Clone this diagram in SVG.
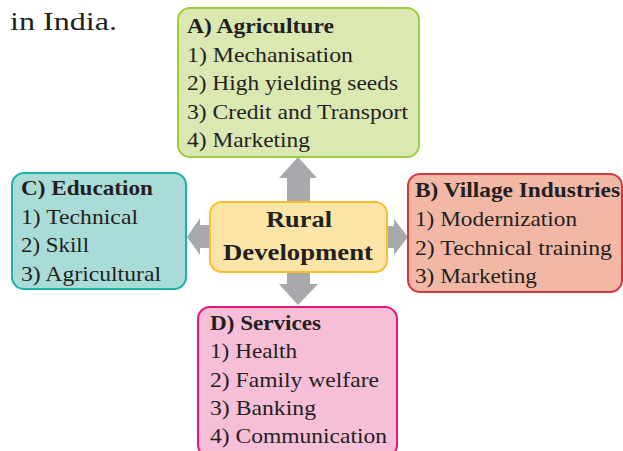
<svg xmlns="http://www.w3.org/2000/svg" width="623" height="451" viewBox="0 0 623 451">
<style>
text{font-family:"Liberation Serif","Times New Roman",Times,serif;fill:#231f20}
.t{font-size:21px;font-weight:bold}
.i{font-size:21px}
.c{font-size:24px;font-weight:bold}
.box{stroke-width:2}
.arr{fill:#a7a9ac}
</style>
<rect width="623" height="451" fill="#fff"/>
<text x="10" y="30" style="font-size:25px" textLength="107" lengthAdjust="spacingAndGlyphs">in India.</text>
<g id="connectors">
<polygon class="arr" points="287,202 287,178 279,178 298,157 317,178 310,178 310,202"/>
<polygon class="arr" points="287,272 287,284 279,284 298,305 318,284 310,284 310,272"/>
<polygon class="arr" points="210,225 200,225 200,218 187,237 200,255 200,248 210,248"/>
<polygon class="arr" points="387,226 394,226 394,219 408,237 394,255 394,248 387,248"/>
</g>
<g id="agriculture">
<rect class="box" x="178" y="8" width="241" height="149" rx="12" fill="#dce8b1" stroke="#9fcd40"/>
<text class="t" x="187" y="33" textLength="147" lengthAdjust="spacingAndGlyphs">A) Agriculture</text>
<text class="i" x="187" y="62" textLength="166" lengthAdjust="spacingAndGlyphs">1) Mechanisation</text>
<text class="i" x="187" y="90" textLength="211" lengthAdjust="spacingAndGlyphs">2) High yielding seeds</text>
<text class="i" x="187" y="119" textLength="221" lengthAdjust="spacingAndGlyphs">3) Credit and Transport</text>
<text class="i" x="187" y="147" textLength="123" lengthAdjust="spacingAndGlyphs">4) Marketing</text>
</g>
<g id="education">
<rect class="box" x="12" y="173" width="174" height="116" rx="12" fill="#a9dcd6" stroke="#1fb3a8"/>
<text class="t" x="21" y="195" textLength="132" lengthAdjust="spacingAndGlyphs">C) Education</text>
<text class="i" x="21" y="224" textLength="117" lengthAdjust="spacingAndGlyphs">1) Technical</text>
<text class="i" x="21" y="252" textLength="68" lengthAdjust="spacingAndGlyphs">2) Skill</text>
<text class="i" x="21" y="281" textLength="140" lengthAdjust="spacingAndGlyphs">3) Agricultural</text>
</g>
<g id="rural">
<rect class="box" x="210" y="202" width="177" height="70" rx="12" fill="#fde5a8" stroke="#fbbd2c"/>
<text class="c" x="266" y="227" textLength="66" lengthAdjust="spacingAndGlyphs">Rural</text>
<text class="c" x="223" y="260" textLength="150" lengthAdjust="spacingAndGlyphs">Development</text>
</g>
<g id="industries">
<rect class="box" x="408" y="174" width="214" height="118" rx="12" fill="#f2b7a5" stroke="#d8363f"/>
<text class="t" x="415" y="197" textLength="205" lengthAdjust="spacingAndGlyphs">B) Village Industries</text>
<text class="i" x="415" y="226" textLength="162" lengthAdjust="spacingAndGlyphs">1) Modernization</text>
<text class="i" x="415" y="255" textLength="197" lengthAdjust="spacingAndGlyphs">2) Technical training</text>
<text class="i" x="415" y="283" textLength="122" lengthAdjust="spacingAndGlyphs">3) Marketing</text>
</g>
<g id="services">
<rect class="box" x="198" y="307" width="199" height="150" rx="12" fill="#f6bed7" stroke="#e5177f"/>
<text class="t" x="210" y="330" textLength="111" lengthAdjust="spacingAndGlyphs">D) Services</text>
<text class="i" x="210" y="358" textLength="87" lengthAdjust="spacingAndGlyphs">1) Health</text>
<text class="i" x="210" y="387" textLength="169" lengthAdjust="spacingAndGlyphs">2) Family welfare</text>
<text class="i" x="210" y="415" textLength="106" lengthAdjust="spacingAndGlyphs">3) Banking</text>
<text class="i" x="210" y="443" textLength="177" lengthAdjust="spacingAndGlyphs">4) Communication</text>
</g>
</svg>
